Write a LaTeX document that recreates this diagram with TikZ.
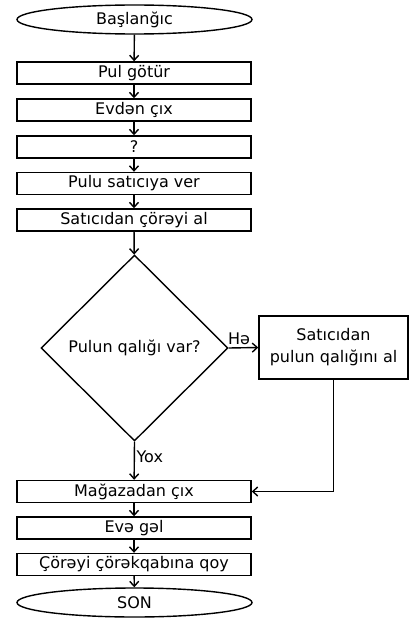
\documentclass[tikz,border=0pt]{standalone}
\usepackage{fontspec}
\setmainfont{DejaVu Sans}
\usetikzlibrary{shapes.geometric,arrows.meta}
\begin{document}
\begin{tikzpicture}[x=1pt,y=-1pt,
  every node/.style={font=\fontsize{16}{22}\selectfont},
  term/.style={draw,line width=1.4pt,ellipse,minimum width=235pt,minimum height=29pt,inner sep=0pt},
  stepbox/.style={draw,line width=1.4pt,rectangle,minimum width=234pt,minimum height=22pt,inner sep=0pt},
  decide/.style={draw,line width=1.4pt,diamond,minimum width=187pt,minimum height=186pt,inner sep=0pt},
  sidebox/.style={draw,line width=1.4pt,rectangle,minimum width=149pt,minimum height=63pt,inner sep=0pt,align=center},
  conn/.style={line width=1.4pt,-{Straight Barb[length=5pt,width=9pt,line width=1.4pt]}},
  lbl/.style={inner sep=1.5pt}
]
\useasboundingbox (0,0) rectangle (413,618);
\node[term] (start) at (134.5,19.5) {Başlanğıc};
\node[stepbox] (b1) at (134,73) {Pul götür};
\node[stepbox] (b2) at (134,110) {Evdən çıx};
\node[stepbox] (b3) at (134,147) {?};
\node[stepbox] (b4) at (134,183.5) {Pulu satıcıya ver};
\node[stepbox] (b5) at (134,220) {Satıcıdan çörəyi al};
\node[decide] (dia) at (134.5,348) {\makebox[0pt]{Pulun qalığı var?}};
\node[sidebox] (side) at (333.5,347.5) {Satıcıdan\\pulun qalığını al};
\node[stepbox] (b6) at (134,491.5) {Mağazadan çıx};
\node[stepbox] (b7) at (134,528) {Evə gəl};
\node[stepbox] (b8) at (134,564.5) {Çörəyi çörəkqabına qoy};
\node[term] (son) at (134.5,602.5) {SON};

\draw[conn] (start) -- (b1);
\draw[conn] (b1) -- (b2);
\draw[conn] (b2) -- (b3);
\draw[conn] (b3) -- (b4);
\draw[conn] (b4) -- (b5);
\draw[conn] (b5) -- (dia);
\draw[conn] (dia.east) -- node[lbl,above,pos=0.35,yshift=1pt] {Hə} (side.west);
\draw[conn] (dia.south) -- node[lbl,right,pos=0.4] {Yox} (b6);
\draw[conn] (side.south) |- (b6.east);
\draw[conn] (b6) -- (b7);
\draw[conn] (b7) -- (b8);
\draw[conn] (b8) -- (son);
\end{tikzpicture}
\end{document}
